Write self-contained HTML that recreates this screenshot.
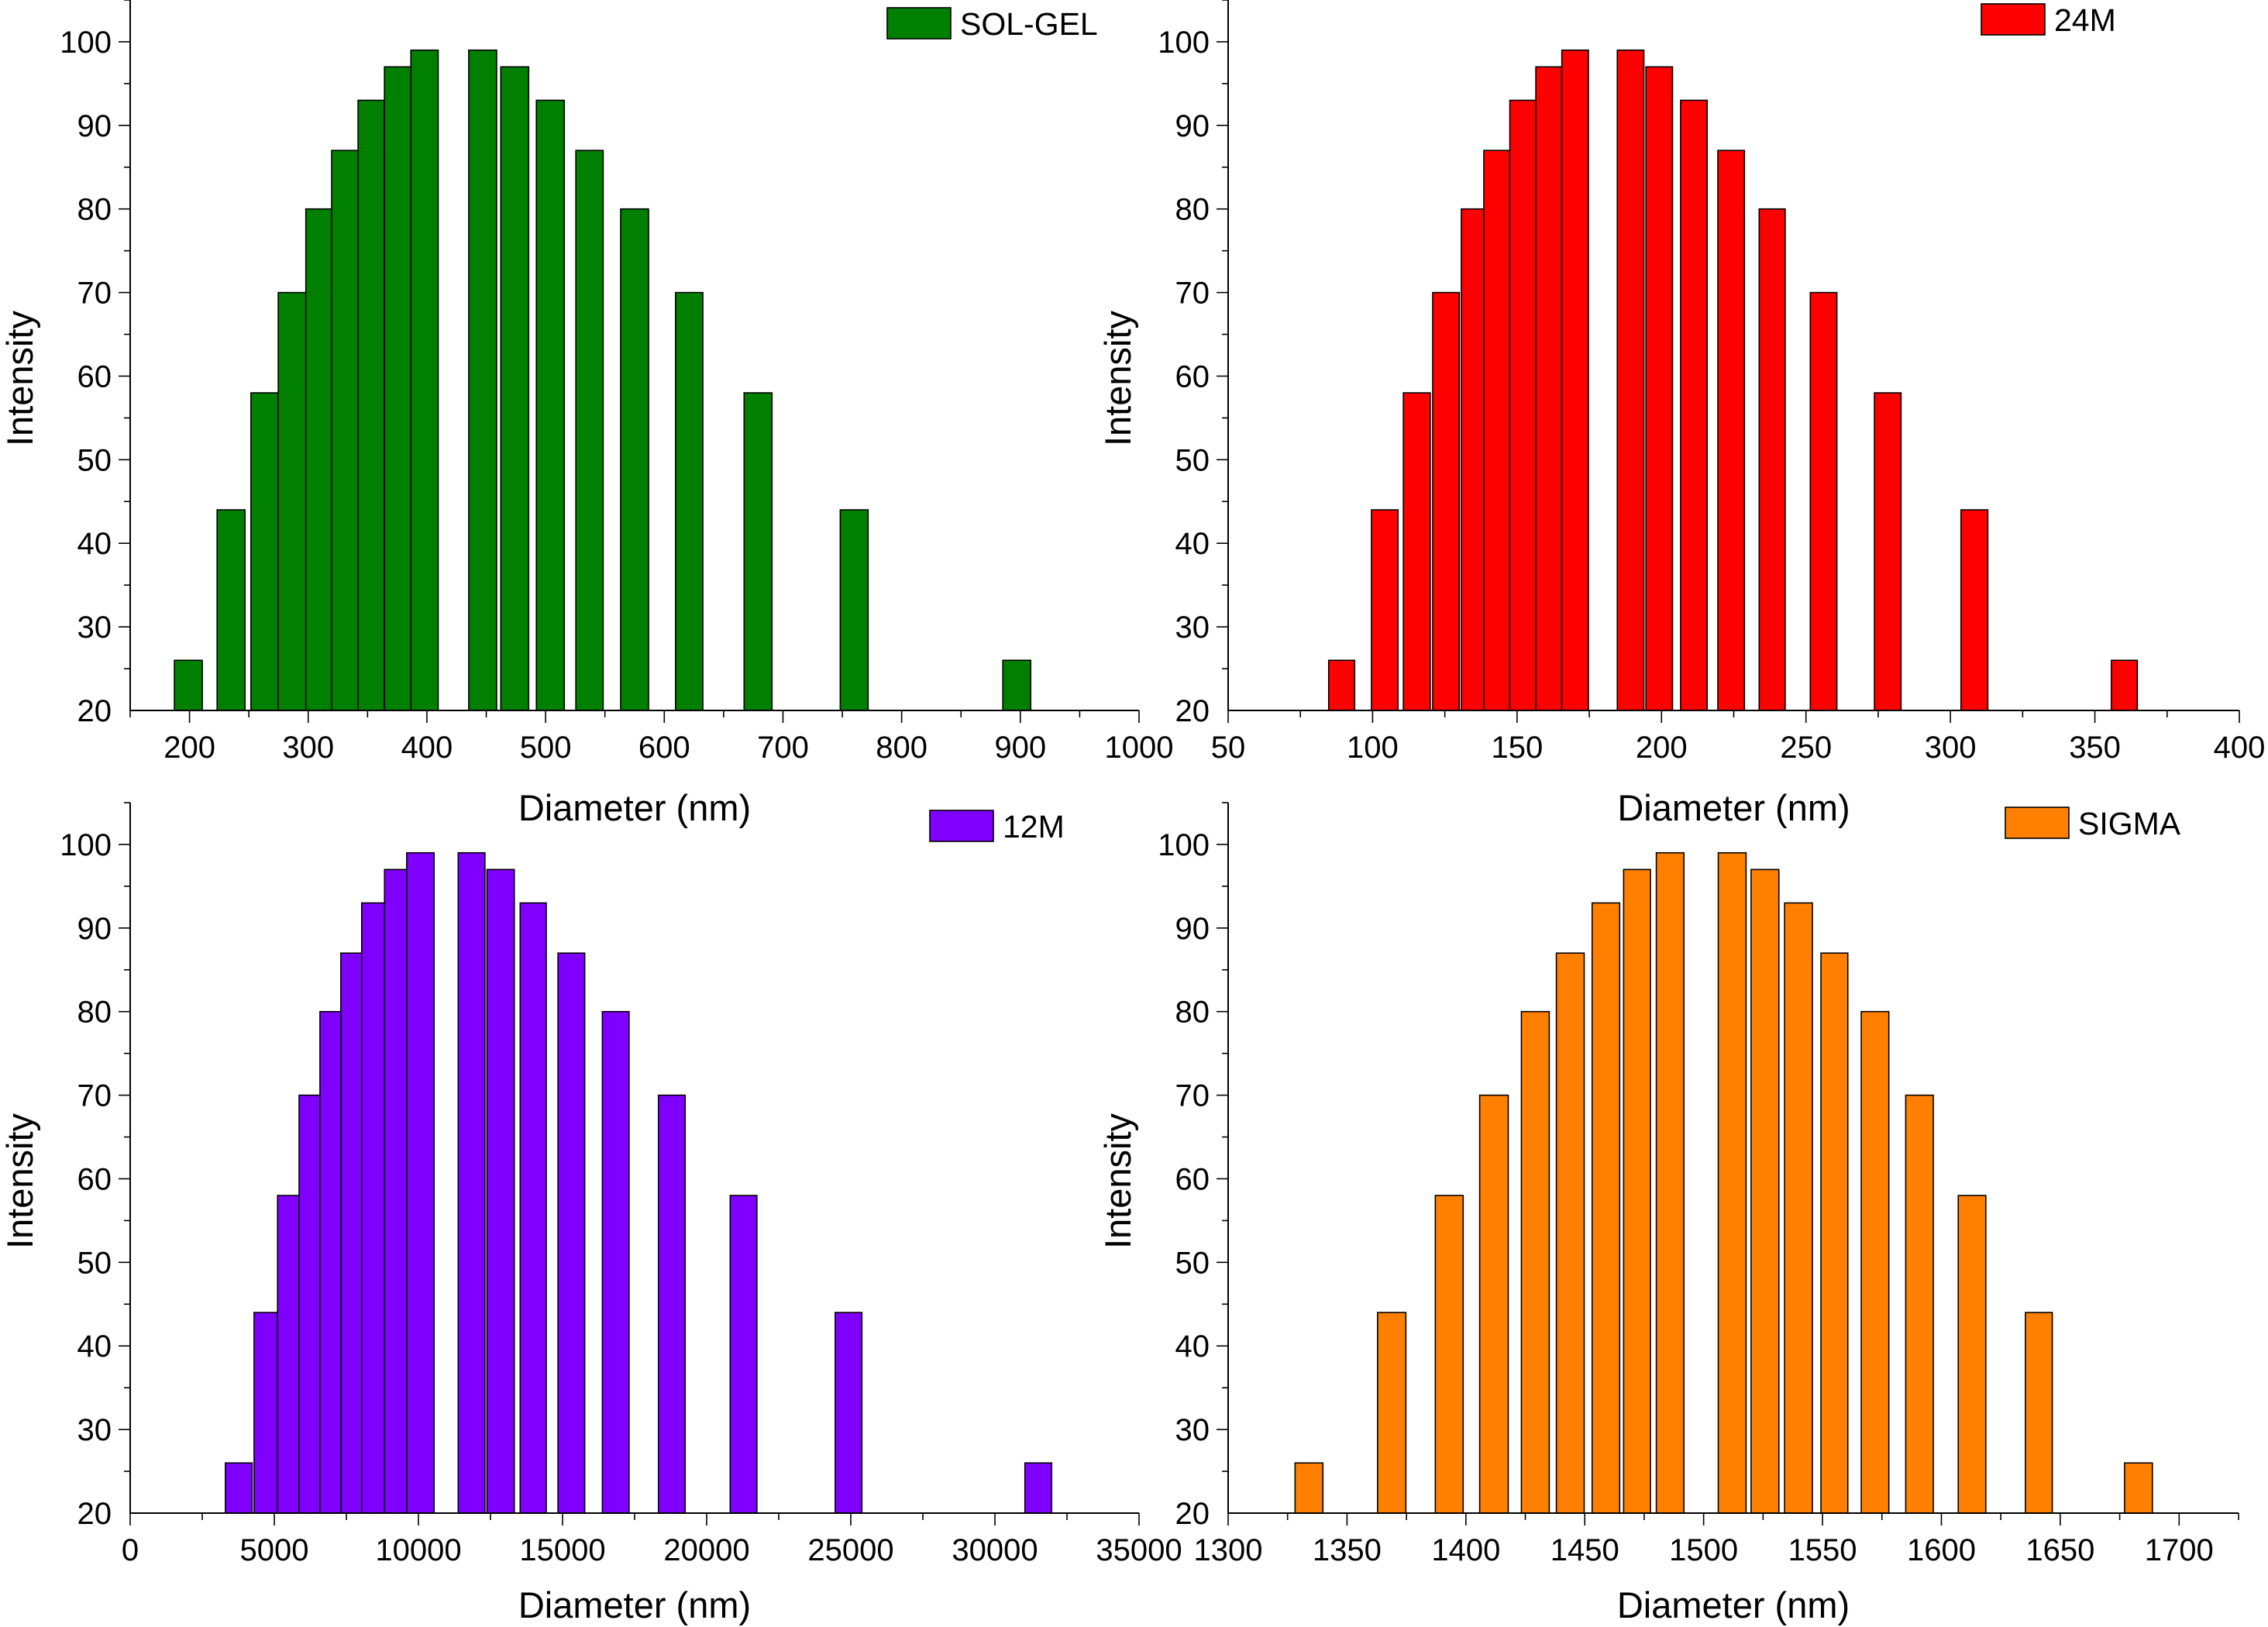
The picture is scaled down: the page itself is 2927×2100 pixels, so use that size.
<!DOCTYPE html>
<html><head><meta charset="utf-8"><style>
html,body{margin:0;padding:0;background:#fff;}
svg{display:block;font-family:"Liberation Sans",Arial,sans-serif;}
</style></head><body>
<svg id="c" width="2927" height="2100" viewBox="0 0 2927 2100" xmlns="http://www.w3.org/2000/svg"></svg>
<script>
// ---- data ----
const solgelCenters=[199,235,263.5,286.5,309,331,353,375.5,398,447,474,504,537,575,621,679,760,897];
const solgelWidths=[23.5,23.5,23.5,23.5,22,22.5,22,22.5,23,23.5,23.5,23.5,23,23.5,23,23.5,23.5,23.5];
const solgelValues=[26,44,58,70,80,87,93,97,99,99,97,93,87,80,70,58,44,26];
const m24Centers=[89.3,104.2,115.3,125.4,134.6,143,152,161,170.1,189.3,199.2,211.2,224.1,238.3,256.1,278.3,308.3,360.2];
const m24Widths=[9,9.2,9.3,9.2,7.8,9,9,9,9.2,9.2,9.2,9.2,9.2,9,9.2,9.2,9.3,9];
const m24Values=[26,44,58,70,80,87,93,97,99,99,97,93,87,80,70,58,44,26];
const m12Centers=[3767,4706,5487,6222,6946,7670,8428,9209,10068,11844,12851,13982,15306,16845,18790,21279,24922,31505];
const m12Widths=[928,814,747,724,724,724,792,769,950,928,950,904,928,927,927,927,927,928];
const m12Values=[26,44,58,70,80,87,93,97,99,99,97,93,87,80,70,58,44,26];
const sigmaCenters=[1334,1368.8,1393,1411.8,1429.2,1443.9,1458.9,1472,1485.9,1512,1525.8,1539.9,1555,1572.1,1590.8,1612.9,1641,1682.9];
const sigmaWidths=[11.7,11.9,11.7,12,11.7,11.7,11.6,11.3,11.6,11.7,11.7,11.7,11.3,11.6,11.6,11.6,11.3,11.7];
const sigmaValues=[26,44,58,70,80,87,93,97,99,99,97,93,87,80,70,58,44,26];
const yTickLabels=["20","30","40","50","60","70","80","90","100"];
const xTicksSolgel=["200","300","400","500","600","700","800","900","1000"];
const xTicks24=["50","100","150","200","250","300","350","400"];
const xTicks12=["0","5000","10000","15000","20000","25000","30000","35000"];
const xTicksSigma=["1300","1350","1400","1450","1500","1550","1600","1650","1700"];

const NS="http://www.w3.org/2000/svg";
const svg=document.getElementById('c');
function mk(tag,attrs,parent){const e=document.createElementNS(NS,tag);for(const k in attrs)e.setAttribute(k,attrs[k]);(parent||svg).appendChild(e);return e;}

function panel(cfg){
  const g=mk('g',{});
  
  
  const X=v=>cfg.px0+(v-cfg.x0)/(cfg.x1-cfg.x0)*(cfg.px1-cfg.px0);
  const Y=v=>cfg.py0-(v-20)/(105-20)*(cfg.py0-cfg.py1);
  for(let i=0;i<cfg.centers.length;i++){
    const l=X(cfg.centers[i]-cfg.widths[i]/2), r=X(cfg.centers[i]+cfg.widths[i]/2), t=Y(cfg.values[i]);
    const b=mk('rect',{x:l,y:t,width:r-l,height:cfg.py0-t,fill:cfg.color,stroke:'#000','stroke-width':1.6},g);
    
    
  }
  const ax=mk('path',{d:`M${cfg.px0},${cfg.py1} V${cfg.py0} H${cfg.px1}`,fill:'none',stroke:'#000','stroke-width':2},g);
  
  
  for(let v=25;v<=105;v+=5){
    const major=v%10===0, y=Y(v);
    mk('line',{x1:cfg.px0-(major?15:8),x2:cfg.px0,y1:y,y2:y,stroke:'#000','stroke-width':1.6},g);
  }
  yTickLabels.forEach(s=>{
    const t=mk('text',{x:cfg.px0-24,y:Y(+s)+14,'text-anchor':'end','font-size':40},g);
    t.textContent=s;
    
    
  });
  for(let v=cfg.x0;v<=cfg.x1+1e-9;v+=cfg.minor){
    const major=Math.abs((v-cfg.majorStart)/cfg.major-Math.round((v-cfg.majorStart)/cfg.major))<1e-6;
    const x=X(v);
    mk('line',{x1:x,x2:x,y1:cfg.py0,y2:cfg.py0+(major?16:9),stroke:'#000','stroke-width':1.6},g);
  }
  cfg.xLabels.forEach(s=>{
    const t=mk('text',{x:X(+s),y:cfg.py0+61,'text-anchor':'middle','font-size':40},g);
    t.textContent=s;
    
    
  });
  const xt=mk('text',{x:(cfg.px0+cfg.px1)/2,y:cfg.py0+cfg.titleOff,'text-anchor':'middle','font-size':47},g);
  xt.textContent='Diameter (nm)';
  
  
  const cy=(cfg.py0+cfg.py1)/2+30;
  const yt=mk('text',{x:cfg.px0-126,y:cy,'text-anchor':'middle','font-size':47,transform:`rotate(-90 ${cfg.px0-126} ${cy})`},g);
  yt.textContent='Intensity';
  
  
  const lg=mk('g',{},g);
  
  
  mk('rect',{x:cfg.lx,y:cfg.ly,width:82,height:40,fill:cfg.color,stroke:'#000','stroke-width':1.6},lg);
  const lt=mk('text',{x:cfg.lx+94,y:cfg.ly+35,'font-size':41},lg);
  lt.textContent=cfg.label;
}

panel({name:'sol-gel',color:'#007f00',label:'SOL-GEL',centers:solgelCenters,widths:solgelWidths,values:solgelValues,
  x0:150,x1:1000,px0:168,px1:1470,py0:917,py1:0,minor:50,major:100,majorStart:200,xLabels:xTicksSolgel,lx:1145,ly:10,titleOff:142});
panel({name:'24m',color:'#ff0000',label:'24M',centers:m24Centers,widths:m24Widths,values:m24Values,
  x0:50,x1:400,px0:1585,px1:2890,py0:917,py1:0,minor:25,major:50,majorStart:50,xLabels:xTicks24,lx:2557,ly:5,titleOff:142});
panel({name:'12m',color:'#8000ff',label:'12M',centers:m12Centers,widths:m12Widths,values:m12Values,
  x0:0,x1:35000,px0:168,px1:1470,py0:1953,py1:1036,minor:2500,major:5000,majorStart:0,xLabels:xTicks12,lx:1200,ly:1046,titleOff:135});
panel({name:'sigma',color:'#ff8000',label:'SIGMA',centers:sigmaCenters,widths:sigmaWidths,values:sigmaValues,
  x0:1300,x1:1725,px0:1585,px1:2889,py0:1953,py1:1036,minor:25,major:50,majorStart:1300,xLabels:xTicksSigma,lx:2588,ly:1042,titleOff:135});
</script>
</body></html>
